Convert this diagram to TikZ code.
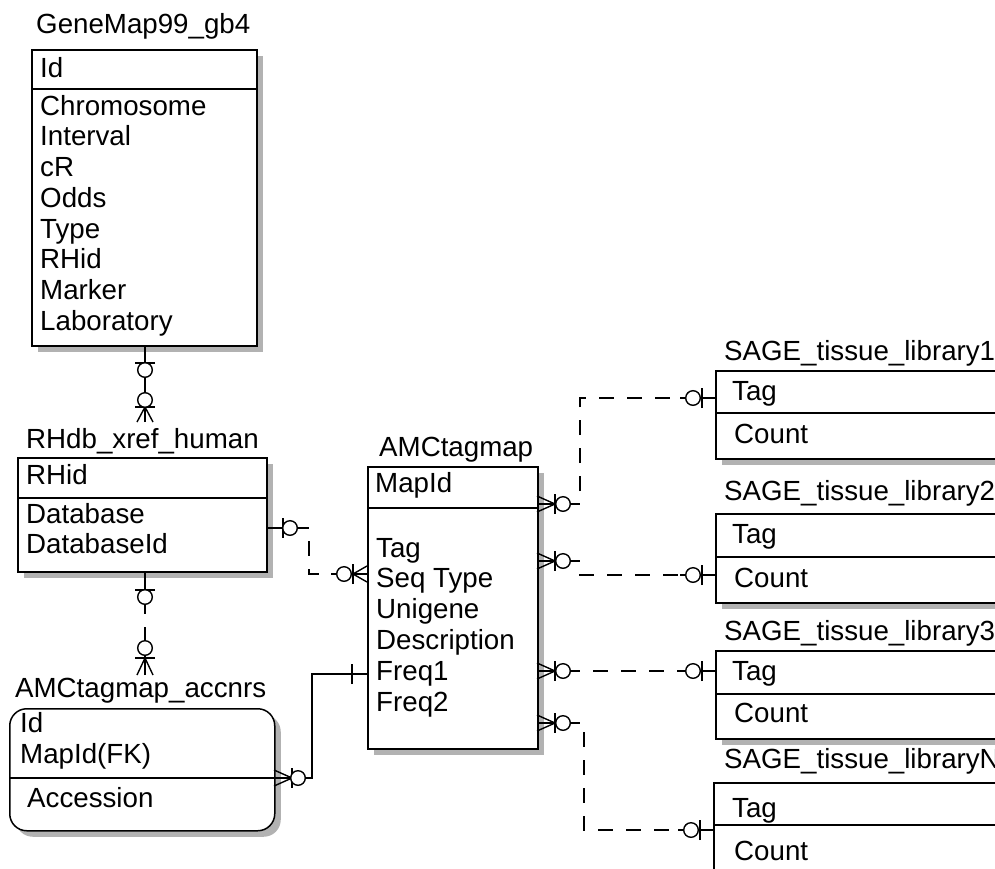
\documentclass[tikz,border=0pt]{standalone}
\usepackage{fontspec}
\setmainfont{Liberation Sans}
\usetikzlibrary{shadows}
\begin{document}
\begin{tikzpicture}[x=1pt,y=-1pt,
  ent/.style={draw, line width=1.5pt, fill=white, anchor=north west, inner sep=0pt,
    drop shadow={shadow xshift=6pt, shadow yshift=-6pt, opacity=1, fill=black!30}},
  lbl/.style={anchor=base west, inner sep=0pt, font=\fontsize{27.7}{32}\selectfont},
  div/.style={line width=1.5pt},
  conn/.style={line width=1.4pt},
  dsh/.style={conn, dash pattern=on 15pt off 13pt},
  pics/zo/.style 2 args={code={
    \draw[conn] (0,0) -- (#2+13,0);
    \draw[conn] (#1,-10) -- (#1,10);
    \draw[conn, fill=white] (#2,0) circle[radius=7.3];
  }},
  pics/zm/.style 2 args={code={
    \draw[conn] (0,0) -- (#2+13,0);
    \draw[conn] (0,-8) -- (#1,0) -- (0,8);
    \draw[conn] (#1,-10) -- (#1,10);
    \draw[conn, fill=white] (#2,0) circle[radius=7.3];
  }},
  pics/onebar/.style={code={
    \draw[conn] (0,0) -- (20,0);
    \draw[conn] (15,-10) -- (15,10);
  }}
]
\useasboundingbox (0,0) rectangle (995,868);

% ---------- entities ----------
\node[ent, minimum width=225pt, minimum height=296pt] (gm) at (31,49) {};
\draw[div] (31,89) -- (256,89);
\node[lbl] (gmT) at (36,33) {GeneMap99\_gb4};
\node[lbl] (gmK) at (40,77) {Id};
\foreach \t [count=\i] in {Chromosome,Interval,cR,Odds,Type,RHid,Marker,Laboratory}
  \node[lbl] (gmf\i) at (40,{115+30.75*(\i-1)}) {\t};

\node[ent, minimum width=249pt, minimum height=114pt] (rh) at (17,457) {};
\draw[div] (17,498) -- (266,498);
\node[lbl] (rhT) at (26,448) {RHdb\_xref\_human};
\node[lbl] (rhK) at (26,484) {RHid};
\node[lbl] (rhf1) at (26,523) {Database};
\node[lbl] (rhf2) at (26,553) {DatabaseId};

\node[ent, rounded corners=17pt, minimum width=265pt, minimum height=122pt] (ac) at (9,708) {};
\draw[div] (9,778) -- (274,778);
\node[lbl] (acT) at (15,697) {AMCtagmap\_accnrs};
\node[lbl] (acK1) at (20,732) {Id};
\node[lbl] (acK2) at (20,763) {MapId(FK)};
\node[lbl] (acf1) at (27,807) {Accession};

\node[ent, minimum width=170pt, minimum height=282pt] (amc) at (367,466) {};
\draw[div] (367,508) -- (537,508);
\node[lbl] (amcT) at (379,456) {AMCtagmap};
\node[lbl] (amcK) at (375,492) {MapId};
\foreach \t [count=\i] in {Tag,Seq Type,Unigene,Description,Freq1,Freq2}
  \node[lbl] (amcf\i) at (376,{557+30.9*(\i-1)}) {\t};

\node[ent, minimum width=320pt, minimum height=88pt] (s1) at (715,370) {};
\draw[div] (715,413) -- (1035,413);
\node[lbl] (s1T) at (724,360) {SAGE\_tissue\_library1};
\node[lbl] (s1a) at (732,400) {Tag};
\node[lbl] (s1b) at (734,443) {Count};

\node[ent, minimum width=320pt, minimum height=89pt] (s2) at (715,513) {};
\draw[div] (715,557) -- (1035,557);
\node[lbl] (s2T) at (724,500) {SAGE\_tissue\_library2};
\node[lbl] (s2a) at (732,543) {Tag};
\node[lbl] (s2b) at (734,587) {Count};

\node[ent, minimum width=320pt, minimum height=88pt] (s3) at (715,650) {};
\draw[div] (715,694) -- (1035,694);
\node[lbl] (s3T) at (724,640) {SAGE\_tissue\_library3};
\node[lbl] (s3a) at (732,680) {Tag};
\node[lbl] (s3b) at (734,722) {Count};

\node[ent, minimum width=320pt, minimum height=120pt] (sN) at (713,782) {};
\draw[div] (713,825) -- (1035,825);
\node[lbl] (sNT) at (724,768) {SAGE\_tissue\_libraryN};
\node[lbl] (sNa) at (732,817) {Tag};
\node[lbl] (sNb) at (734,860) {Count};

% ---------- connector end points ----------
\coordinate (gmB) at (145,345);  \coordinate (rhTop) at (145,422);
\coordinate (rhB) at (145,571);  \coordinate (acTop) at (145,675);
\coordinate (rhR) at (266,528);  \coordinate (amcL1) at (367,574);
\coordinate (acR) at (274,778);  \coordinate (amcL2) at (367,674);
\coordinate (amcR1) at (537,504); \coordinate (s1L) at (715,398);
\coordinate (amcR2) at (537,561); \coordinate (s2L) at (715,575);
\coordinate (amcR3) at (537,671); \coordinate (s3L) at (715,671);
\coordinate (amcR4) at (537,723); \coordinate (sNL) at (713,830);

% ---------- connectors ----------
\draw[conn] (gmB) -- (rhTop);
\draw[dsh] (rhB) -- (acTop);
\draw[dsh] (rhR) -- (309,528) -- (309,574) -- (amcL1);
\draw[conn] (acR) -- (312,778) -- (312,674) -- (amcL2);
\draw[dsh] (amcR1) -- (580,504) -- (580,398) -- (s1L);
\draw[dsh] (amcR2) -- (580,561) -- (580,575) -- (s2L);
\draw[dsh] (amcR3) -- (s3L);
\draw[dsh] (amcR4) -- (584,723) -- (584,830) -- (sNL);

% ---------- end symbols ----------
\pic[rotate=-90] at (gmB) {zo={18}{25}};
\pic[rotate=90] at (rhTop) {zm={15}{22}};
\pic[rotate=-90] at (rhB) {zo={19}{26}};
\pic[rotate=90] at (acTop) {zm={17}{27}};
\pic at (rhR) {zo={17}{24}};
\pic[rotate=180] at (amcL1) {zm={14}{23}};
\pic at (acR) {zm={18}{24}};
\pic[rotate=180] at (amcL2) {onebar};
\pic at (amcR1) {zm={18}{26}};
\pic at (amcR2) {zm={18}{26}};
\pic at (amcR3) {zm={18}{26}};
\pic at (amcR4) {zm={18}{26}};
\pic[rotate=180] at (s1L) {zo={13}{22}};
\pic[rotate=180] at (s2L) {zo={13}{22}};
\pic[rotate=180] at (s3L) {zo={13}{22}};
\pic[rotate=180] at (sNL) {zo={13}{22}};
\end{tikzpicture}
\end{document}
